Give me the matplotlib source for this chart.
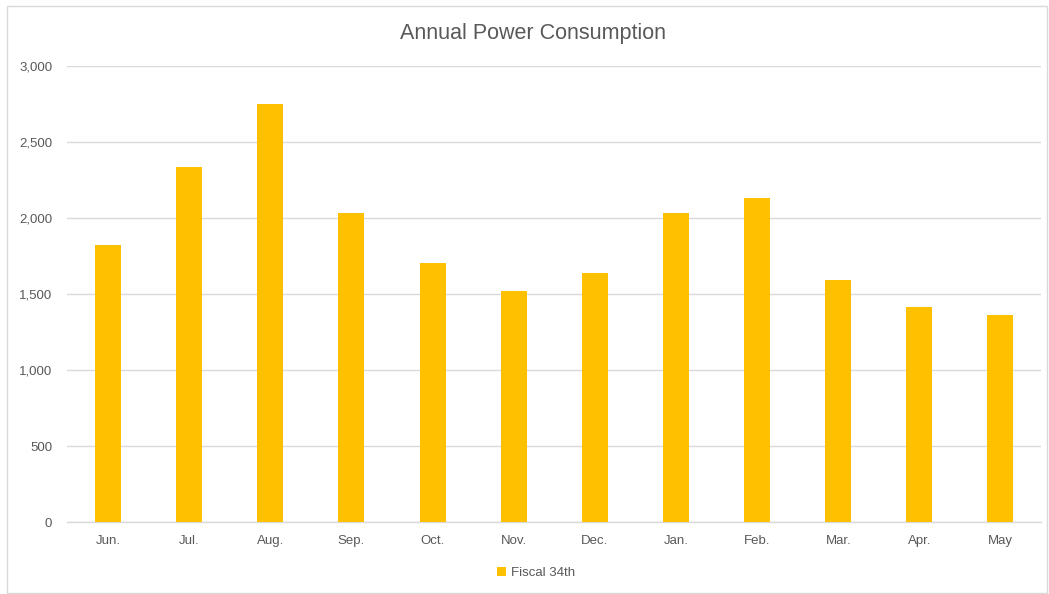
import matplotlib
matplotlib.use("Agg")
import matplotlib.pyplot as plt
from matplotlib.patches import Rectangle
from matplotlib.ticker import FuncFormatter

months = ["Jun.", "Jul.", "Aug.", "Sep.", "Oct.", "Nov.",
          "Dec.", "Jan.", "Feb.", "Mar.", "Apr.", "May"]
consumption = [1820, 2338, 2747, 2035, 1701, 1523,
               1635, 2035, 2129, 1589, 1413, 1365]
series_name = "Fiscal 34th"
y_ticks = [0, 500, 1000, 1500, 2000, 2500, 3000]

plt.rcParams["font.family"] = ["Liberation Sans", "DejaVu Sans"]
text_color = "#595959"
bar_color = "#FFC000"
grid_color = "#D9D9D9"

fig = plt.figure(figsize=(10.49, 5.94), dpi=100)
ax = fig.add_axes([0.0643, 0.1212, 0.9281, 0.7677])

x = list(range(len(months)))
ax.bar(x, consumption, width=0.32, color=bar_color, label=series_name, zorder=3)

ax.set_xlim(-0.5, len(months) - 0.5)
ax.set_ylim(0, 3000)
ax.set_yticks(y_ticks)
ax.yaxis.set_major_formatter(FuncFormatter(lambda v, p: f"{int(v):,}"))
ax.set_xticks(x)
ax.set_xticklabels(months)

ax.grid(axis="y", color=grid_color, linewidth=1.0, zorder=0)
for side in ["top", "right", "left"]:
    ax.spines[side].set_visible(False)
ax.spines["bottom"].set_color(grid_color)
ax.spines["bottom"].set_linewidth(1.0)
ax.tick_params(axis="both", length=0, labelsize=9.5, labelcolor=text_color)
ax.tick_params(axis="x", pad=9)
ax.tick_params(axis="y", pad=11)

fig.text(0.508, 0.944, "Annual Power Consumption", ha="center", va="center",
         fontsize=15.5, color=text_color)

leg = fig.legend(loc="center", bbox_to_anchor=(0.511, 0.035), frameon=False,
                 fontsize=9.5, handlelength=0.7, handleheight=0.7, handletextpad=0.4)
for t in leg.get_texts():
    t.set_color(text_color)

# chart area border
fig.patches.append(Rectangle((7 / 1049, 0.002), 1040 / 1049, 1 - 6 / 594 - 0.002,
                             transform=fig.transFigure, fill=False,
                             edgecolor="#D9D9D9", linewidth=1.0))

fig.savefig("out.png", dpi=100, facecolor="white")
